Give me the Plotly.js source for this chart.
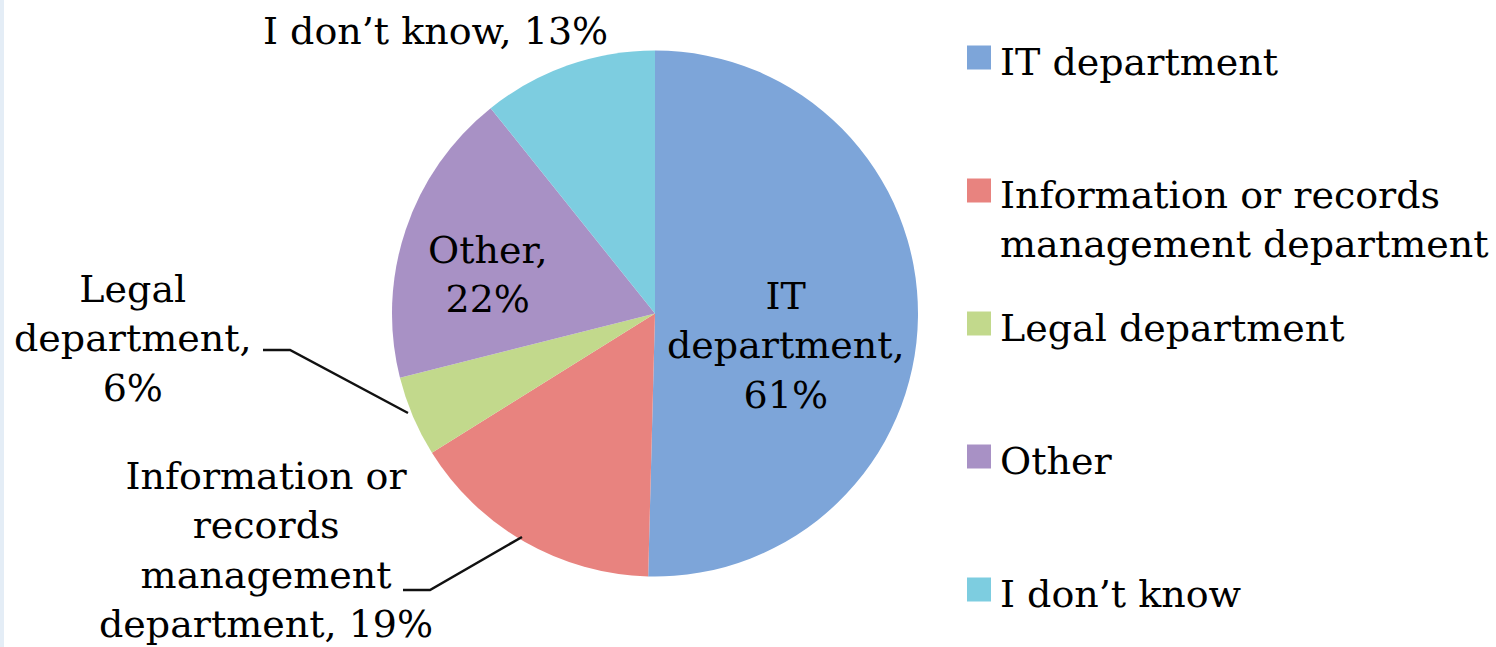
<!DOCTYPE html>
<html>
<head>
<meta charset="utf-8">
<script src="https://cdn.plot.ly/plotly-3.0.1.min.js"></script>
<style>html,body{margin:0;padding:0;background:#fff;}#chart{width:1496px;height:647px;}</style>
</head>
<body>
<div id="chart"></div>
<script>
// ---- data ----
const labels = ["IT department", "Information or records management department", "Legal department", "Other", "I don\u2019t know"];
const values = [61, 19, 6, 22, 13];
const colors = ["#7da5d9", "#e8837f", "#c2d98c", "#a891c5", "#7dcde0"];
const sliceLabelText = ["IT<br>department,", "Information or<br>records<br>management<br>department,", "Legal<br>department,", "Other,", "I don\u2019t know,"];
const legendText = ["IT department", "Information or records<br>management department", "Legal department", "Other", "I don\u2019t know"];

const W = 1496, H = 647;
const FONT = "DejaVu Serif, serif";
const FS = 38;
const TXT = "#000";
const px = x => x / W;
const py = y => 1 - y / H;

// pie geometry (pixels)
const cx = 655, cy = 313.5, R = 263;

const trace = {
  type: "pie",
  labels: labels,
  values: values,
  sort: false,
  direction: "clockwise",
  rotation: 0,
  marker: {colors: colors, line: {width: 0}},
  textposition: "none",
  hoverinfo: "label+value",
  showlegend: false,
  domain: {x: [px(cx - R), px(cx + R)], y: [py(cy + R), py(cy - R)]}
};

const annotations = [];
const shapes = [];
const lab = (x, y, text) => annotations.push({xref: "paper", yref: "paper", x: px(x), y: py(y),
  xanchor: "center", yanchor: "middle", align: "center", text: text, showarrow: false,
  font: {family: FONT, size: FS, color: TXT}});

// data labels
lab(786, 345, sliceLabelText[0] + "<br>" + values[0] + "%");
lab(266, 550, sliceLabelText[1] + " " + values[1] + "%");
lab(133, 338, sliceLabelText[2] + "<br>" + values[2] + "%");
lab(487, 274, sliceLabelText[3] + "<br>" + values[3] + "%");
lab(435, 31, sliceLabelText[4] + " " + values[4] + "%");

// leader lines
shapes.push({type: "path", xref: "paper", yref: "paper",
  path: `M${px(263)},${py(350)} L${px(290)},${py(350)} L${px(408)},${py(413)}`,
  line: {color: "#111", width: 2.5}});
shapes.push({type: "path", xref: "paper", yref: "paper",
  path: `M${px(403)},${py(590)} L${px(430)},${py(590)} L${px(522)},${py(537)}`,
  line: {color: "#111", width: 2.5}});

// custom legend (big square swatches)
const legendTop = 57.5, legendStep = 133;
labels.forEach((l, i) => {
  const c = legendTop + legendStep * i;
  shapes.push({type: "rect", xref: "paper", yref: "paper",
    x0: px(967), x1: px(991), y0: py(c - 12), y1: py(c + 12),
    fillcolor: colors[i], line: {width: 0}});
  annotations.push({xref: "paper", yref: "paper", x: px(998), y: py(c - 20), xanchor: "left", yanchor: "top", align: "left",
    text: legendText[i], showarrow: false, font: {family: FONT, size: FS, color: TXT}});
});

// faint slide edge at far left
shapes.push({type: "rect", xref: "paper", yref: "paper", x0: 0, x1: px(4), y0: 0, y1: 1,
  fillcolor: "#e4edf6", line: {width: 0}, layer: "below"});

const layout = {
  width: W, height: H,
  margin: {l: 0, r: 0, t: 0, b: 0},
  paper_bgcolor: "#ffffff",
  showlegend: false,
  annotations: annotations,
  shapes: shapes,
  font: {family: FONT}
};

Plotly.newPlot("chart", [trace], layout, {displayModeBar: false, staticPlot: true});
</script>
</body>
</html>
